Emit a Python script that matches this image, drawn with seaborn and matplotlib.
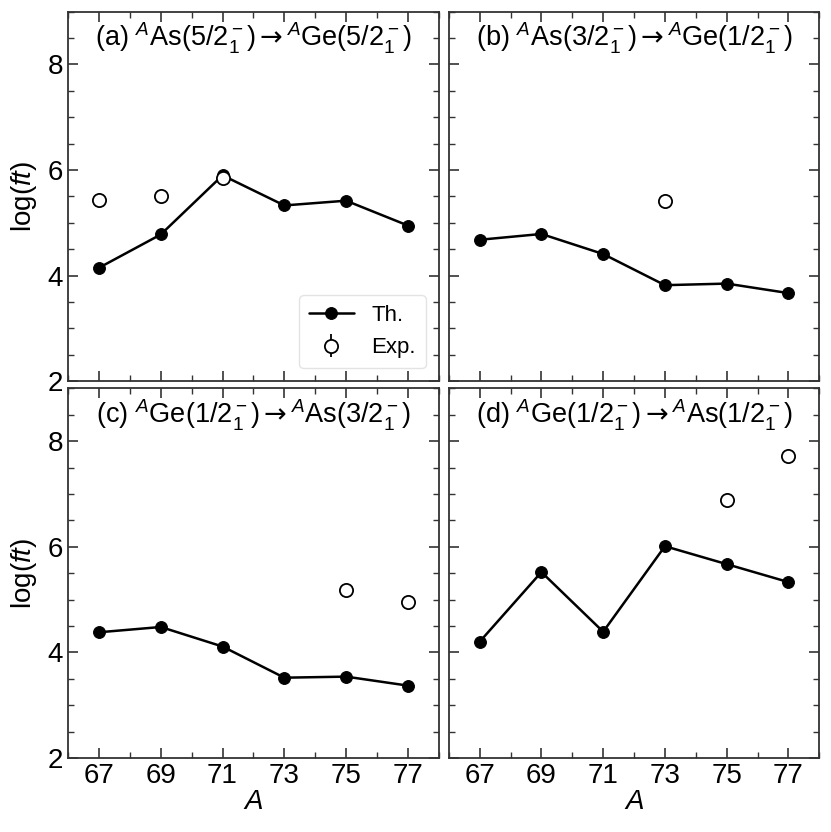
import numpy as np
import pandas as pd
import matplotlib
matplotlib.use("Agg")
import matplotlib.pyplot as plt
from matplotlib.ticker import MultipleLocator
import seaborn as sns

# ── Data ─────────────────────────────────────────────────
A_th = [67, 69, 71, 73, 75, 77]

th_a = [4.15, 4.78, 5.90, 5.33, 5.42, 4.95]
th_b = [4.68, 4.79, 4.41, 3.82, 3.85, 3.67]
th_c = [4.38, 4.48, 4.11, 3.52, 3.54, 3.37]
th_d = [4.20, 5.52, 4.39, 6.01, 5.67, 5.33]

A_exp_a = [67, 69, 71]
exp_a = [5.44, 5.50, 5.85]
A_exp_b = [73]
exp_b = [5.41]
A_exp_c = [75, 77]
exp_c = [5.18, 4.96]
A_exp_d = [75, 77]
exp_d = [6.88, 7.71]

ARROW = r"$\mathsf{\rightarrow}$"
titles = [
    r"(a) $^{A}$As(5/2$_1^-$)" + ARROW + r"$^{A}$Ge(5/2$_1^-$)",
    r"(b) $^{A}$As(3/2$_1^-$)" + ARROW + r"$^{A}$Ge(1/2$_1^-$)",
    r"(c) $^{A}$Ge(1/2$_1^-$)" + ARROW + r"$^{A}$As(3/2$_1^-$)",
    r"(d) $^{A}$Ge(1/2$_1^-$)" + ARROW + r"$^{A}$As(1/2$_1^-$)",
]

sns.set_theme(style="ticks")
plt.rcParams["font.family"] = ["Liberation Sans", "DejaVu Sans"]
plt.rcParams["mathtext.fontset"] = "custom"
plt.rcParams["mathtext.rm"] = "Liberation Sans"
plt.rcParams["mathtext.it"] = "Liberation Sans:italic"
plt.rcParams["mathtext.bf"] = "Liberation Sans:bold"
plt.rcParams["mathtext.sf"] = "DejaVu Sans"
plt.rcParams["text.color"] = "black"
plt.rcParams["axes.labelcolor"] = "black"
plt.rcParams["xtick.color"] = "black"
plt.rcParams["ytick.color"] = "black"

fig, axes = plt.subplots(2, 2, figsize=(8.31, 8.32), dpi=100,
                         sharex=True, sharey=True)
fig.subplots_adjust(left=0.082, right=0.986, top=0.986, bottom=0.089,
                    wspace=0.027, hspace=0.019)

panels = [
    (axes[0, 0], th_a, A_exp_a, exp_a),
    (axes[0, 1], th_b, A_exp_b, exp_b),
    (axes[1, 0], th_c, A_exp_c, exp_c),
    (axes[1, 1], th_d, A_exp_d, exp_d),
]

for i, (ax, th, a_exp, ex) in enumerate(panels):
    df = pd.DataFrame({"A": A_th, "logft": th})
    sns.lineplot(data=df, x="A", y="logft", ax=ax, color="black",
                 marker="o", markersize=8.5, markeredgecolor="black",
                 linewidth=1.8, label="Th.", legend=False)
    ax.errorbar(a_exp, ex, yerr=np.zeros(len(ex)), fmt="o", ms=9.5,
                mfc="white", mec="black", mew=1.3, ecolor="black",
                elinewidth=1.3, capsize=0, label="Exp.", zorder=5)

    ax.text(0.5, 0.975, titles[i], transform=ax.transAxes,
            ha="center", va="top", fontsize=19.5)

    ax.set_xlim(66, 78)
    ax.set_ylim(2, 9)
    ax.set_xticks([67, 69, 71, 73, 75, 77])
    ax.set_yticks([2, 4, 6, 8])
    ax.xaxis.set_minor_locator(MultipleLocator(1))
    ax.yaxis.set_minor_locator(MultipleLocator(0.5))
    ax.tick_params(which="both", direction="in", top=True, right=True,
                   labelsize=20, color="#333333", labelcolor="black")
    ax.tick_params(which="major", length=7, width=1.2)
    ax.tick_params(which="minor", length=4, width=1.0)
    for sp in ax.spines.values():
        sp.set_color("#333333")
        sp.set_linewidth(1.3)
    ax.set_xlabel("")
    ax.set_ylabel("")

for ax in axes[1, :]:
    ax.set_xlabel(r"$A$", fontsize=20, labelpad=0)
for ax in axes[:, 0]:
    ax.set_ylabel(r"log($ft$)", fontsize=20, labelpad=6)

leg = axes[0, 0].legend(loc="lower right", fontsize=16, frameon=True,
                        handlelength=2.0, borderpad=0.45,
                        bbox_to_anchor=(0.995, 0.005))
leg.get_frame().set_edgecolor("#dddddd")

plt.savefig("out.png", dpi=100)
plt.close()
